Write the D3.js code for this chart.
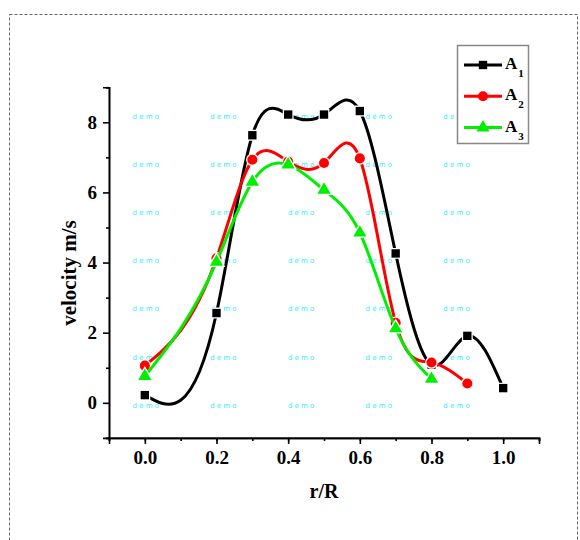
<!DOCTYPE html>
<html>
<head>
<meta charset="utf-8">
<script src="https://cdn.jsdelivr.net/npm/d3@7"></script>
<style>
body { margin: 0; background: #fff; }
svg { display: block; }
</style>
</head>
<body>
<div id="chart"></div>
<script>
// values
var rR = [0.0, 0.2, 0.3, 0.4, 0.5, 0.6, 0.7, 0.8, 0.9, 1.0];
var a1 = [0.22, 2.56, 7.63, 8.22, 8.22, 8.32, 4.26, 1.09, 1.91, 0.42];
var a2 = [1.06, 4.12, 6.93, 6.88, 6.84, 6.97, 2.28, 1.15, 0.55];
var a3 = [0.76, 4.02, 6.30, 6.79, 6.07, 4.85, 2.12, 0.68];
var xTicks = [0.0, 0.2, 0.4, 0.6, 0.8, 1.0];
var yTicks = [0, 2, 4, 6, 8];

var series = [
	{name: "A", sub: "1", vals: a1, color: "#000000", symbol: d3.symbolSquare, size: 70},
	{name: "A", sub: "2", vals: a2, color: "#ff0000", symbol: d3.symbolCircle, size: 80},
	{name: "A", sub: "3", vals: a3, color: "#00ee00", symbol: d3.symbolTriangle, size: 75}
];

var width = 580, height = 540;
var font = "'Liberation Serif', 'Times New Roman', serif";

// natural cubic spline in x (like Origin's spline connect), drawn as bezier pieces
function curveSplineX(context) {
	var xs, ys;
	return {
		areaStart: function() {}, areaEnd: function() {},
		lineStart: function() { xs = []; ys = []; },
		point: function(px, py) { xs.push(+px); ys.push(+py); },
		lineEnd: function() {
			var n = xs.length, i;
			if (!n) return;
			context.moveTo(xs[0], ys[0]);
			if (n < 3) { for (i = 1; i < n; i++) context.lineTo(xs[i], ys[i]); return; }
			var h = [], M = new Array(n).fill(0);
			for (i = 0; i < n - 1; i++) h.push(xs[i + 1] - xs[i]);
			// tridiagonal solve for second derivatives
			var a = [], b = [], c = [], r = [];
			for (i = 1; i < n - 1; i++) {
				a.push(h[i - 1]); b.push(2 * (h[i - 1] + h[i])); c.push(h[i]);
				r.push(6 * ((ys[i + 1] - ys[i]) / h[i] - (ys[i] - ys[i - 1]) / h[i - 1]));
			}
			var m = b.length;
			for (i = 1; i < m; i++) {
				var w = a[i] / b[i - 1];
				b[i] -= w * c[i - 1];
				r[i] -= w * r[i - 1];
			}
			var sol = new Array(m);
			sol[m - 1] = r[m - 1] / b[m - 1];
			for (i = m - 2; i >= 0; i--) sol[i] = (r[i] - c[i] * sol[i + 1]) / b[i];
			for (i = 0; i < m; i++) M[i + 1] = sol[i];
			for (i = 0; i < n - 1; i++) {
				var s = (ys[i + 1] - ys[i]) / h[i];
				var d0 = s - h[i] * (2 * M[i] + M[i + 1]) / 6;
				var d1 = s + h[i] * (M[i] + 2 * M[i + 1]) / 6;
				context.bezierCurveTo(
					xs[i] + h[i] / 3, ys[i] + d0 * h[i] / 3,
					xs[i + 1] - h[i] / 3, ys[i + 1] - d1 * h[i] / 3,
					xs[i + 1], ys[i + 1]);
			}
		}
	};
}

var svg = d3.select('#chart')
	.append('svg')
	.attr('width', width)
	.attr('height', height);

// dashed frame of the page
svg.append("rect")
	.attr("x", 9.5).attr("y", 14.5)
	.attr("width", 568).attr("height", 600)
	.attr("fill", "none")
	.attr("stroke", "#666")
	.attr("stroke-width", 1)
	.attr("stroke-dasharray", "3,2");

var x = d3.scaleLinear().domain([-0.1, 1.1]).range([109, 539]),
    y = d3.scaleLinear().domain([-1, 9]).range([437.9, 87.2]);

// demo watermark
var g_wm = svg.append("g");
for (var r = 0; r < 7; r++) {
	for (var c = 0; c < 5; c++) {
		g_wm.append("text")
			.attr("x", 132.5 + c * 77.7)
			.attr("y", 118.5 + r * 48.2)
			.attr("font-family", "'DejaVu Sans', sans-serif")
			.attr("font-size", 7)
			.attr("letter-spacing", 2.2)
			.attr("fill", "#33eeff")
			.text("demo");
	}
}

// axes
var xAxis = d3.axisBottom(x).tickValues(xTicks).tickSize(6).tickPadding(7)
	.tickFormat(d3.format(".1f"));
var xMinor = d3.axisBottom(x).tickValues(d3.range(-0.1, 1.15, 0.1).map(function(d){return +d.toFixed(1);}))
	.tickSize(3).tickFormat("");
var yAxis = d3.axisLeft(y).tickValues(yTicks).tickSize(6).tickPadding(6)
	.tickFormat(d3.format("d"));
var yMinor = d3.axisLeft(y).tickValues([-1, 1, 3, 5, 7, 9]).tickSize(3).tickFormat("");

function styleAxis(g) {
	g.select(".domain").attr("stroke-width", 1.6);
	g.selectAll(".tick line").attr("stroke-width", 1.6);
	g.selectAll(".tick text")
		.attr("font-family", font)
		.attr("font-weight", "bold")
		.attr("font-size", 19)
		.attr("fill", "#000");
}

svg.append("g").attr("transform", "translate(0," + y(-1) + ")").call(xMinor).call(styleAxis);
svg.append("g").attr("transform", "translate(0," + y(-1) + ")").call(xAxis).call(styleAxis);
svg.append("g").attr("transform", "translate(" + x(-0.1) + ",0)").call(yMinor).call(styleAxis);
svg.append("g").attr("transform", "translate(" + x(-0.1) + ",0)").call(yAxis).call(styleAxis);

// axis titles
svg.append("text")
	.attr("x", 324)
	.attr("y", 498)
	.attr("text-anchor", "middle")
	.attr("font-family", font)
	.attr("font-weight", "bold")
	.attr("font-size", 20)
	.text("r/R");

svg.append("text")
	.attr("transform", "translate(76,273) rotate(-90)")
	.attr("text-anchor", "middle")
	.attr("font-family", font)
	.attr("font-weight", "bold")
	.attr("font-size", 21)
	.text("velocity m/s");

// lines and symbols
series.forEach(function(s) {
	var pts = s.vals.map(function(v, i) { return [rR[i], v]; });
	var line = d3.line()
		.curve(curveSplineX)
		.x(function(d) { return x(d[0]); })
		.y(function(d) { return y(d[1]); });

	svg.append("path")
		.datum(pts)
		.attr("d", line)
		.attr("fill", "none")
		.attr("stroke", s.color)
		.attr("stroke-width", 3);

	svg.append("g").selectAll("path")
		.data(pts)
		.enter().append("path")
		.attr("transform", function(d) { return "translate(" + x(d[0]) + "," + y(d[1]) + ")"; })
		.attr("d", d3.symbol().type(s.symbol).size(s.size))
		.attr("fill", s.color)
		.attr("stroke", "#fff")
		.attr("stroke-width", 2.5)
		.attr("paint-order", "stroke");
});

// legend
var lg = svg.append("g");
lg.append("rect")
	.attr("x", 457.5).attr("y", 45.5)
	.attr("width", 71).attr("height", 98)
	.attr("fill", "#fff")
	.attr("stroke", "#888")
	.attr("stroke-width", 1.5);

series.forEach(function(s, i) {
	var yy = 65 + i * 31.3;
	lg.append("line")
		.attr("x1", 464).attr("x2", 502)
		.attr("y1", yy).attr("y2", yy)
		.attr("stroke", s.color)
		.attr("stroke-width", 3);
	lg.append("path")
		.attr("transform", "translate(483," + yy + ")")
		.attr("d", d3.symbol().type(s.symbol).size(s.size))
		.attr("fill", s.color);
	var t = lg.append("text")
		.attr("x", 505)
		.attr("y", yy + 4)
		.attr("font-family", font)
		.attr("font-weight", "bold")
		.attr("font-size", 17)
		.attr("fill", "#000");
	t.append("tspan").text(s.name);
	t.append("tspan")
		.attr("font-size", 11)
		.attr("dx", 1)
		.attr("dy", 8)
		.text(s.sub);
});
</script>
</body>
</html>
